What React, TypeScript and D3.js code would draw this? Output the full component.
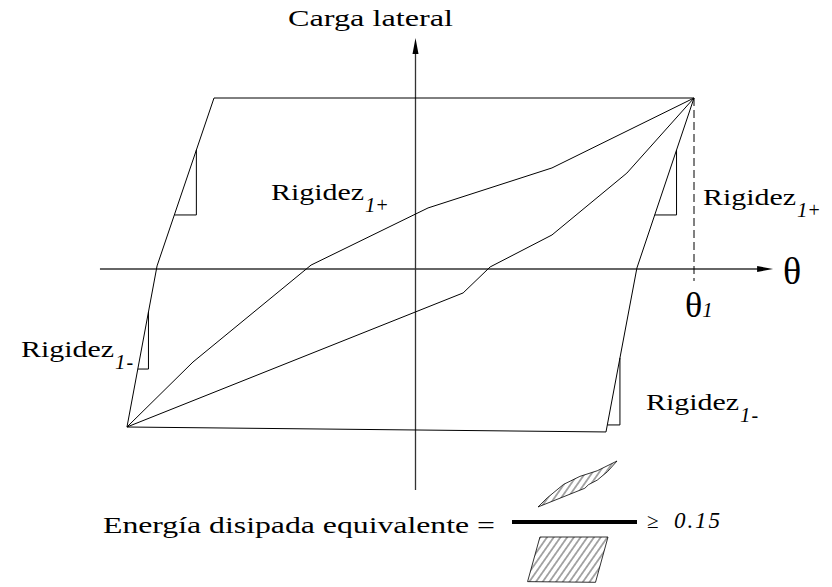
import React from "react";
import * as d3 from "d3";

const W = 832;
const H = 587;

// Normalised drift (θ/θ1) and lateral load (P/Pmax) of the idealised cycle.
// Outer envelope: loading branches and unloading stiffness lines.
const envelope: [number, number][] = [
  [-0.7235, 1],
  [1, 1],
  [0.795, 0.006],
  [0.684, -0.953],
  [-1.036, -0.924],
  [-0.928, 0.018],
];

// Measured hysteresis loop, upper (unloading) and lower (reloading) branches.
const loopUpper: [number, number][] = [
  [-1.036, -0.924],
  [-0.799, -0.544],
  [-0.375, 0.023],
  [0.045, 0.357],
  [0.49, 0.591],
  [1, 1],
];
const loopLower: [number, number][] = [
  [-1.036, -0.924],
  [0.171, -0.14],
  [0.268, 0.012],
  [0.49, 0.199],
  [0.759, 0.561],
  [1, 1],
];

// Stiffness markers: envelope segment (start, end index) and the two load levels.
const stiffnessSegments: [number, number][] = [
  [5, 0],
  [1, 2],
  [4, 5],
  [2, 3],
];
const stiffnessLevels: [number, number][] = [
  [0.696, 0.316],
  [0.696, 0.316],
  [-0.251, -0.585],
  [-0.52, -0.912],
];

// Extent of the axes in normalised units.
const thetaAxisExtent: [number, number] = [-1.133, 1.284];
const loadAxisExtent: [number, number] = [-1.292, 1.351];
const dashedLoadExtent: [number, number] = [1, -0.07];

// Corners of the equivalent elasto-plastic parallelogram.
const parallelogramIdx = [0, 1, 3, 4];

// Minimum ratio of equivalent dissipated energy.
const energyThreshold = "0.15";

const x = d3.scaleLinear().domain([0, 1]).range([415.5, 694]);
const y = d3.scaleLinear().domain([0, 1]).range([269, 98]);

// Small pictograms of the loop area and of the parallelogram area.
const xLoopIcon = d3.scaleLinear().domain([0, 1]).range([578.2, 617]);
const yLoopIcon = d3.scaleLinear().domain([0, 1]).range([484.9, 461]);
const xParIcon = d3.scaleLinear().domain([0, 1]).range([568.5, 608]);
const yParIcon = d3.scaleLinear().domain([0, 1]).range([560.2, 537]);

const line = d3
  .line<[number, number]>()
  .x((d) => x(d[0]))
  .y((d) => y(d[1]));

function xOnSegment(a: [number, number], b: [number, number], p: number) {
  const t = (p - a[1]) / (b[1] - a[1]);
  return a[0] + t * (b[0] - a[0]);
}

const serifStyle = { fontFamily: "Liberation Serif" };
const italicStyle = { fontFamily: "Liberation Serif", fontStyle: "italic" as const };

function Rigidez({ px, py, sign }: { px: number; py: number; sign: string }) {
  return (
    <text x={px} y={py} style={serifStyle} fontSize={24} fill="#000">
      <tspan textLength={93} lengthAdjust="spacingAndGlyphs">
        Rigidez
      </tspan>
      <tspan style={italicStyle} fontSize={21} dy={12} dx={1}>
        1
      </tspan>
      <tspan fontSize={20} dx={1}>
        {sign}
      </tspan>
    </text>
  );
}

export default function App() {
  const closedEnvelope = [...envelope, envelope[0]];
  const loopArea = [...loopUpper, ...loopLower.slice().reverse()];
  const loopIconPath =
    d3
      .line<[number, number]>()
      .x((d) => xLoopIcon(d[0]))
      .y((d) => yLoopIcon(d[1]))(loopArea) + "Z";
  const parPath =
    d3
      .line<[number, number]>()
      .x((d) => xParIcon(d[0]))
      .y((d) => yParIcon(d[1]))(parallelogramIdx.map((i) => envelope[i])) + "Z";

  const axisX1 = x(thetaAxisExtent[0]);
  const axisX2 = x(thetaAxisExtent[1]);
  const axisY1 = y(loadAxisExtent[0]);
  const axisY2 = y(loadAxisExtent[1]);
  const x0 = x(0);
  const y0 = y(0);

  return (
    <svg
      width={W}
      height={H}
      style={{ position: "absolute", left: 0, top: 0, fontFamily: "Liberation Serif" }}
    >
      <defs>
        <pattern
          id="hatch"
          width={5.5}
          height={10}
          patternUnits="userSpaceOnUse"
          patternTransform="rotate(35)"
        >
          <line x1={2.75} y1={0} x2={2.75} y2={10} stroke="#000" strokeWidth={0.7} />
        </pattern>
      </defs>
      <rect width={W} height={H} fill="#fff" />

      {/* axes */}
      <line x1={axisX1} y1={y0} x2={axisX2 - 14} y2={y0} stroke="#333" strokeWidth={1.3} />
      <path
        d={`M${axisX2},${y0} L${axisX2 - 16},${y0 - 3} L${axisX2 - 16},${y0 + 3} Z`}
        fill="#000"
      />
      <line x1={x0} y1={axisY1} x2={x0} y2={axisY2 + 14} stroke="#333" strokeWidth={1.3} />
      <path
        d={`M${x0},${axisY2} L${x0 - 3},${axisY2 + 16} L${x0 + 3},${axisY2 + 16} Z`}
        fill="#000"
      />

      {/* θ1 marker */}
      <line
        x1={x(1)}
        y1={y(dashedLoadExtent[0])}
        x2={x(1)}
        y2={y(dashedLoadExtent[1])}
        stroke="#000"
        strokeWidth={1}
        strokeDasharray="8,4"
      />

      {/* envelope and loop */}
      <path d={line(closedEnvelope) ?? ""} fill="none" stroke="#000" strokeWidth={1} />
      <path d={line(loopUpper) ?? ""} fill="none" stroke="#000" strokeWidth={1} />
      <path d={line(loopLower) ?? ""} fill="none" stroke="#000" strokeWidth={1} />

      {/* stiffness triangles */}
      {stiffnessSegments.map(([ia, ib], i) => {
        const a = envelope[ia];
        const b = envelope[ib];
        const [pTop, pBot] = stiffnessLevels[i];
        const xt = x(xOnSegment(a, b, pTop));
        const xb = x(xOnSegment(a, b, pBot));
        return (
          <path
            key={i}
            d={`M${xt},${y(pTop)} L${xt},${y(pBot)} L${xb},${y(pBot)}`}
            fill="none"
            stroke="#000"
            strokeWidth={1}
          />
        );
      })}

      {/* labels */}
      <text
        x={288}
        y={26}
        style={serifStyle}
        fontSize={24}
        textLength={165}
        lengthAdjust="spacingAndGlyphs"
      >
        Carga lateral
      </text>
      <Rigidez px={271} py={200} sign="+" />
      <Rigidez px={703} py={205} sign="+" />
      <Rigidez px={21} py={357} sign="-" />
      <Rigidez px={646} py={410} sign="-" />

      <text x={783} y={284} style={serifStyle} fontSize={38}>
        θ
      </text>
      <text x={685} y={317} style={serifStyle} fontSize={36}>
        θ
        <tspan style={italicStyle} fontSize={21}>
          1
        </tspan>
      </text>

      {/* equivalent dissipated energy ratio */}
      <text
        x={103}
        y={533}
        style={serifStyle}
        fontSize={24}
        textLength={392}
        lengthAdjust="spacingAndGlyphs"
      >
        Energía disipada equivalente =
      </text>
      <path d={loopIconPath} fill="url(#hatch)" stroke="#000" strokeWidth={0.8} />
      <line x1={512} y1={522} x2={637} y2={522} stroke="#000" strokeWidth={4} />
      <path d={parPath} fill="url(#hatch)" stroke="#000" strokeWidth={0.8} />
      <text x={647} y={528} style={serifStyle} fontSize={21}>
        ≥
      </text>
      <text
        x={674}
        y={528}
        style={italicStyle}
        fontSize={23}
        textLength={46}
        lengthAdjust="spacing"
      >
        {energyThreshold}
      </text>
    </svg>
  );
}
